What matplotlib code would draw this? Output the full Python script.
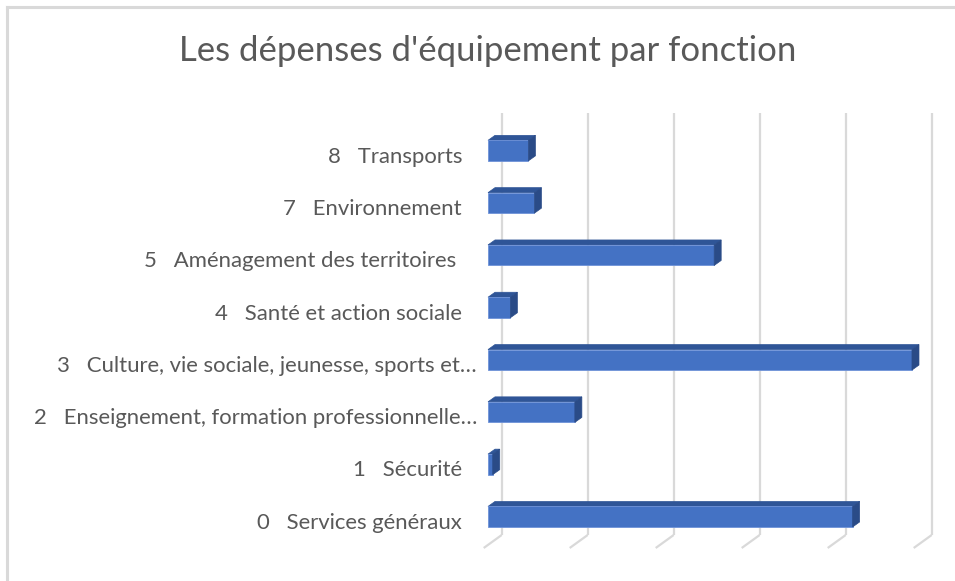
import matplotlib.pyplot as plt
from matplotlib.patches import Polygon
from matplotlib.lines import Line2D
import numpy as np

# Données (unité = un intervalle de quadrillage)
categories = [
    "0   Services généraux",
    "1   Sécurité",
    "2   Enseignement, formation professionnelle…",
    "3   Culture, vie sociale, jeunesse, sports et…",
    "4   Santé et action sociale",
    "5   Aménagement des territoires ",
    "7   Environnement",
    "8   Transports",
]
valeurs = [4.24, 0.055, 1.01, 4.93, 0.26, 2.63, 0.54, 0.47]
graduations = [0, 1, 2, 3, 4, 5]

titre = "Les dépenses d'équipement par fonction"

# couleurs façon Excel
c_face = "#4472C4"
c_dessus = "#2F5597"
c_cote = "#2A4B87"
c_texte = "#595959"
c_grille = "#D9D9D9"

plt.rcParams['font.family'] = ['Lato', 'DejaVu Sans']

W, H = 955, 581
fig = plt.figure(figsize=(W / 100, H / 100), dpi=100, facecolor='white')

# axes placés en pixels : x=0 -> 488 px, 1 unité = 86 px ; catégorie i -> 516.7 - 52.3*i
px_x0, px_x1 = 470, 945
py_top, py_bot = 105, 560
ax = fig.add_axes([px_x0 / W, 1 - py_bot / H, (px_x1 - px_x0) / W, (py_bot - py_top) / H])
ux, uy = 86.0, 52.3
ax.set_xlim((px_x0 - 488) / ux, (px_x1 - 488) / ux)
ax.set_ylim((516.7 - py_bot) / uy, (516.7 - py_top) / uy)
ax.axis('off')

# profondeur 3D
ddx, ddy = 7 / ux, 5 / uy          # épaisseur des barres
mur_dx = 13.7 / ux                 # décalage du mur du fond
sol_dx, sol_dy = -18 / ux, -13 / uy
y_haut, y_bas = (516.7 - 113) / uy, (516.7 - 535) / uy

# quadrillage du mur du fond + lignes du sol
for g in graduations:
    xg = g + mur_dx
    ax.plot([xg, xg], [y_bas, y_haut], color=c_grille, lw=1.6, zorder=1,
            solid_capstyle='butt')
    ax.plot([xg, xg + sol_dx], [y_bas, y_bas + sol_dy], color=c_grille, lw=1.6,
            zorder=1, solid_capstyle='butt')

# barres
pos = np.arange(len(categories))
h = 20.5 / uy / 2
ax.barh(pos, valeurs, height=2 * h, color=c_face, edgecolor='#6E92D8',
        linewidth=0.6, zorder=3)
for i, v in zip(pos, valeurs):
    dessus = [(0, i + h), (v, i + h), (v + ddx, i + h + ddy), (ddx, i + h + ddy)]
    cote = [(v, i - h), (v, i + h), (v + ddx, i + h + ddy), (v + ddx, i - h + ddy)]
    ax.add_patch(Polygon(dessus, closed=True, facecolor=c_dessus,
                         edgecolor=c_dessus, lw=0.5, zorder=2))
    ax.add_patch(Polygon(cote, closed=True, facecolor=c_cote,
                         edgecolor=c_cote, lw=0.5, zorder=4))

# étiquettes des catégories
x_lab = (462 - 488) / ux
for i, lab in zip(pos, categories):
    xl = x_lab + (15 / ux if lab.endswith('…') else 0)
    ax.text(xl, i - 6 / uy, lab, ha='right', va='center', fontsize=15.9,
            color=c_texte, clip_on=False)

# titre
fig.text(488 / W, 1 - 51 / H, titre, ha='center', va='center', fontsize=25,
         color=c_texte)

# bordure du cadre (haut et gauche visibles)
fig.add_artist(Line2D([7 / W, 1], [1 - 7 / H, 1 - 7 / H], color='#D9D9D9', lw=2.2,
                      transform=fig.transFigure))
fig.add_artist(Line2D([7 / W, 7 / W], [0, 1 - 7 / H], color='#D9D9D9', lw=2.2,
                      transform=fig.transFigure))

fig.savefig('out.png', dpi=100, facecolor='white')
